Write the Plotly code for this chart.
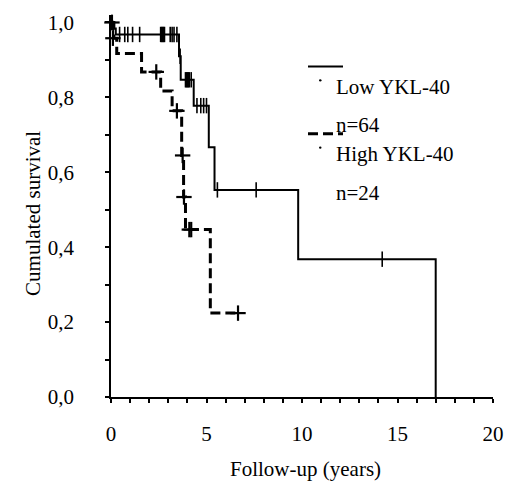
import plotly.graph_objects as go

# ---- data ----
low_times = [0.0, 0.08, 0.25, 3.56, 3.65, 4.33, 5.12, 5.42, 9.8, 17.0]
low_surv = [1.0, 0.984, 0.968, 0.91, 0.847, 0.778, 0.667, 0.553, 0.368, 0.0]
low_cens_t = [0.05, 0.12, 0.45, 0.72, 0.88, 1.13, 1.5, 2.6, 2.65, 2.7, 2.75, 2.8,
              3.1, 3.2, 3.3, 3.45, 3.62, 3.9, 3.95, 4.0, 4.05, 4.1, 4.2,
              4.5, 4.7, 4.85, 5.0, 5.57, 7.6, 14.2]
low_cens_s = [1.0, 0.984, 0.968, 0.968, 0.968, 0.968, 0.968, 0.968, 0.968, 0.968, 0.968, 0.968,
              0.968, 0.968, 0.968, 0.968, 0.91, 0.847, 0.847, 0.847, 0.847, 0.847, 0.847,
              0.778, 0.778, 0.778, 0.778, 0.553, 0.553, 0.368]

high_times = [0.0, 0.15, 0.3, 1.6, 2.6, 3.2, 3.7, 3.8, 3.9, 5.2, 6.65]
high_surv = [1.0, 0.958, 0.917, 0.868, 0.817, 0.764, 0.645, 0.534, 0.447, 0.224, 0.224]
high_cens_t = [0.05, 0.1, 2.37, 3.45, 3.75, 3.82, 4.1, 4.2, 6.65]
high_cens_s = [1.0, 0.958, 0.868, 0.764, 0.645, 0.534, 0.447, 0.447, 0.224]

x_ticks = [0, 5, 10, 15, 20]
y_ticks = [0.0, 0.2, 0.4, 0.6, 0.8, 1.0]
y_ticktext = ["0,0", "0,2", "0,4", "0,6", "0,8", "1,0"]

groups = ["Low YKL-40", "High YKL-40"]
group_n = ["n=64", "n=24"]

# ---- layout geometry (page keeps its 8px body margin) ----
OFF = 8
ML, MT, MB = 111 - OFF, 11 - OFF, 86
PW, PH = 382, 386
W = 507
MR = W - ML - PW
H = MT + PH + MB
FONT = "Liberation Serif"


def px(x):
    return (x - OFF - ML) / PW


def py(y):
    return (OFF + MT + PH - y) / PH


fig = go.Figure()
fig.add_trace(go.Scatter(x=low_times, y=low_surv, mode="lines", line_shape="hv",
                         line=dict(color="black", width=2), showlegend=False,
                         cliponaxis=False))
fig.add_trace(go.Scatter(x=high_times, y=high_surv, mode="lines", line_shape="hv",
                         line=dict(color="black", width=3, dash="10px,5px"),
                         showlegend=False, cliponaxis=False))
fig.add_trace(go.Scatter(x=low_cens_t, y=low_cens_s, mode="markers",
                         marker=dict(symbol="line-ns-open", size=11, color="black",
                                     line=dict(color="black", width=1.6)),
                         showlegend=False, cliponaxis=False))
fig.add_trace(go.Scatter(x=high_cens_t, y=high_cens_s, mode="markers",
                         marker=dict(symbol="line-ns-open", size=11, color="black",
                                     line=dict(color="black", width=2.2)),
                         showlegend=False, cliponaxis=False))
fig.add_trace(go.Scatter(x=high_cens_t, y=high_cens_s, mode="markers",
                         marker=dict(symbol="line-ew-open", size=11, color="black",
                                     line=dict(color="black", width=2.2)),
                         showlegend=False, cliponaxis=False))

axis_common = dict(showline=True, linecolor="black", linewidth=1.5,
                   ticks="outside", ticklen=4, tickwidth=1.5, tickcolor="black",
                   showgrid=False, zeroline=False, ticklabeloverflow="allow",
                   tickfont=dict(family=FONT, size=21, color="black"))

fig.update_xaxes(range=[0, 20], tickvals=x_ticks, ticktext=[str(v) for v in x_ticks],
                 minor=dict(dtick=1, tick0=0, ticks="outside", ticklen=4, tickwidth=1.5,
                            tickcolor="black"),
                 ticklabelstandoff=13, **axis_common)
fig.update_yaxes(range=[0, 1.02], tickvals=y_ticks, ticktext=y_ticktext,
                 minor=dict(dtick=0.1, tick0=0, ticks="outside", ticklen=4, tickwidth=1.5,
                            tickcolor="black"),
                 ticklabelstandoff=27, **axis_common)

annotations = [
    dict(text="Follow-up (years)", x=px(305), y=py(470), xref="paper", yref="paper",
         showarrow=False, xanchor="center", yanchor="middle",
         font=dict(family=FONT, size=21, color="black")),
    dict(text="Cumulated survival", x=px(33), y=py(212), xref="paper", yref="paper",
         showarrow=False, xanchor="center", yanchor="middle", textangle=-90,
         font=dict(family=FONT, size=21, color="black")),
]
legend_rows = [(groups[0], 84), (group_n[0], 122), (groups[1], 151), (group_n[1], 191)]
for txt, yy in legend_rows:
    annotations.append(dict(text=txt, x=px(334), y=py(yy), xref="paper", yref="paper",
                            showarrow=False, xanchor="left", yanchor="middle",
                            font=dict(family=FONT, size=21, color="black")))

shapes = [
    dict(type="line", xref="paper", yref="paper", x0=px(308), x1=px(343),
         y0=py(63), y1=py(63), line=dict(color="black", width=2)),
    dict(type="line", xref="paper", yref="paper", x0=px(308), x1=px(343),
         y0=py(131), y1=py(131), line=dict(color="black", width=3, dash="10px,5px")),
]
for cy in (77, 145):
    shapes.append(dict(type="circle", xref="paper", yref="paper",
                       x0=px(319), x1=px(321.5), y0=py(cy - 1.2), y1=py(cy + 1.2),
                       line=dict(width=0), fillcolor="black"))

fig.update_layout(width=W, height=H, margin=dict(l=ML, r=MR, t=MT, b=MB),
                  plot_bgcolor="white", paper_bgcolor="white",
                  annotations=annotations, shapes=shapes, showlegend=False)

# hide the window scrollbars (layout itself is unchanged)
fig.write_html("out.html", config={"displayModeBar": False},
               post_script="document.documentElement.style.overflow='hidden';")
